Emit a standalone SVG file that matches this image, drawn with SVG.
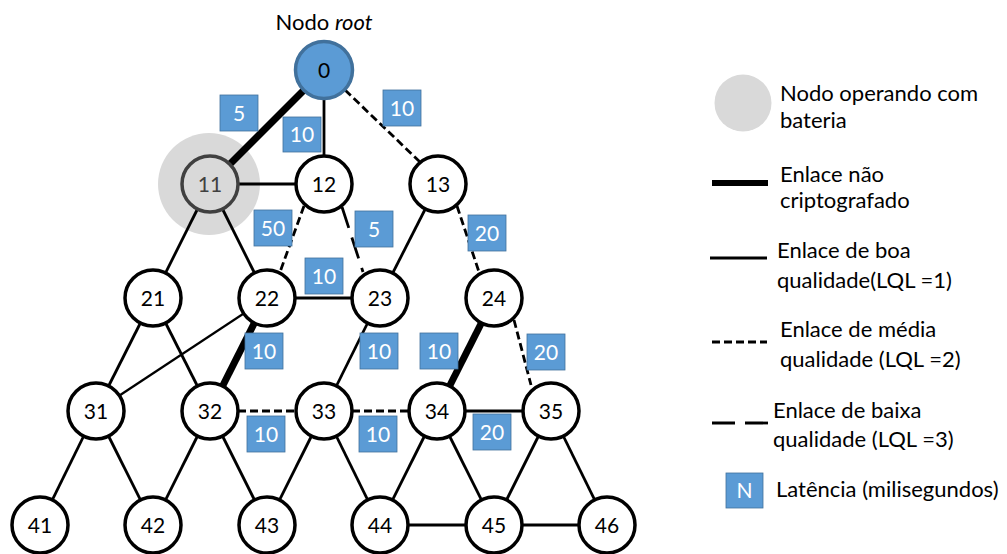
<svg xmlns="http://www.w3.org/2000/svg" width="1007" height="554" viewBox="0 0 1007 554">
  <defs>
    <style>
      .edge { stroke: #000; fill: none; stroke-width: 2.8; }
      .thick { stroke-width: 7; }
      .mid { stroke-dasharray: 8 4; stroke-width: 2.8; }
      .low { stroke-dasharray: 22 10; stroke-width: 2.8; }
      .node circle { fill: #fff; stroke: #000; stroke-width: 3.5; }
      .node text { font-family: Lato, "Liberation Sans", sans-serif; font-size: 21px; text-anchor: middle; fill: #000; }
      .lat rect { fill: #5b9bd5; stroke: #41719c; stroke-width: 0.8; }
      .lat text { font-family: Lato, "Liberation Sans", sans-serif; font-size: 21px; text-anchor: middle; fill: #fff; }
      .lg { font-family: Lato, "Liberation Sans", sans-serif; font-size: 22px; fill: #000; }
    </style>
  </defs>

  <rect width="1007" height="554" fill="#fff"/>

  <!-- battery-powered halo around node 11 -->
  <circle cx="209" cy="184" r="51" fill="#d9d9d9"/>

  <!-- links -->
  <g id="connectors">
    <line class="edge thick" x1="324" y1="70" x2="210" y2="184"/>
    <line class="edge" x1="324" y1="70" x2="324" y2="184"/>
    <line class="edge mid" x1="345" y1="90" x2="420" y2="162"/>
    <line class="edge" x1="210" y1="184" x2="324" y2="184"/>
    <line class="edge" x1="210" y1="184" x2="153" y2="298"/>
    <line class="edge" x1="210" y1="184" x2="267" y2="298"/>
    <line class="edge mid" x1="304" y1="206" x2="280" y2="272"/>
    <line class="edge low" x1="342" y1="207" x2="363" y2="272"/>
    <line class="edge" x1="438" y1="184" x2="380" y2="298"/>
    <line class="edge mid" x1="457" y1="206" x2="479" y2="272"/>
    <line class="edge" x1="153" y1="298" x2="96" y2="411"/>
    <line class="edge" x1="153" y1="298" x2="210" y2="411"/>
    <line class="edge" style="stroke-width:2.3" x1="267" y1="298" x2="96" y2="411"/>
    <line class="edge" x1="267" y1="298" x2="380" y2="298"/>
    <line class="edge thick" x1="267" y1="298" x2="210" y2="411"/>
    <line class="edge" x1="380" y1="298" x2="324" y2="411"/>
    <line class="edge thick" x1="494" y1="298" x2="437" y2="411"/>
    <line class="edge mid" x1="514" y1="320" x2="531" y2="385"/>
    <line class="edge mid" x1="238" y1="411" x2="296" y2="411"/>
    <line class="edge mid" x1="352" y1="411" x2="409" y2="411"/>
    <line class="edge" x1="437" y1="411" x2="551" y2="411"/>
    <line class="edge" x1="96" y1="411" x2="40" y2="525"/>
    <line class="edge" x1="96" y1="411" x2="153" y2="525"/>
    <line class="edge" x1="210" y1="411" x2="153" y2="525"/>
    <line class="edge" x1="210" y1="411" x2="267" y2="525"/>
    <line class="edge" x1="324" y1="411" x2="267" y2="525"/>
    <line class="edge" x1="324" y1="411" x2="380" y2="525"/>
    <line class="edge" x1="437" y1="411" x2="380" y2="525"/>
    <line class="edge" x1="437" y1="411" x2="494" y2="525"/>
    <line class="edge" x1="551" y1="411" x2="494" y2="525"/>
    <line class="edge" x1="551" y1="411" x2="607" y2="525"/>
    <line class="edge" x1="380" y1="525" x2="607" y2="525"/>
  </g>

  <!-- root caption -->
  <text class="lg" x="324" y="30" text-anchor="middle">Nodo <tspan font-style="italic">root</tspan></text>

  <!-- nodes -->
  <g id="n0" class="node"><circle cx="324" cy="70" r="28.5" style="fill:#5b9bd5;stroke:#41719c"/><text x="324" y="77.5">0</text></g>
  <g id="n11" class="node"><circle cx="210" cy="184" r="28" style="fill:#d9d9d9;stroke:#404040"/><text x="210" y="191.5" style="fill:#404040">11</text></g>
  <g id="n12" class="node"><circle cx="324" cy="184" r="28"/><text x="324" y="191.5">12</text></g>
  <g id="n13" class="node"><circle cx="438" cy="184" r="28"/><text x="438" y="191.5">13</text></g>
  <g id="n21" class="node"><circle cx="153" cy="298" r="28"/><text x="153" y="305.5">21</text></g>
  <g id="n22" class="node"><circle cx="267" cy="298" r="28"/><text x="267" y="305.5">22</text></g>
  <g id="n23" class="node"><circle cx="380" cy="298" r="28"/><text x="380" y="305.5">23</text></g>
  <g id="n24" class="node"><circle cx="494" cy="298" r="28"/><text x="494" y="305.5">24</text></g>
  <g id="n31" class="node"><circle cx="96" cy="411" r="28"/><text x="96" y="418.5">31</text></g>
  <g id="n32" class="node"><circle cx="210" cy="411" r="28"/><text x="210" y="418.5">32</text></g>
  <g id="n33" class="node"><circle cx="324" cy="411" r="28"/><text x="324" y="418.5">33</text></g>
  <g id="n34" class="node"><circle cx="437" cy="411" r="28"/><text x="437" y="418.5">34</text></g>
  <g id="n35" class="node"><circle cx="551" cy="411" r="28"/><text x="551" y="418.5">35</text></g>
  <g id="n41" class="node"><circle cx="40" cy="525" r="28"/><text x="40" y="532.5">41</text></g>
  <g id="n42" class="node"><circle cx="153" cy="525" r="28"/><text x="153" y="532.5">42</text></g>
  <g id="n43" class="node"><circle cx="267" cy="525" r="28"/><text x="267" y="532.5">43</text></g>
  <g id="n44" class="node"><circle cx="380" cy="525" r="28"/><text x="380" y="532.5">44</text></g>
  <g id="n45" class="node"><circle cx="494" cy="525" r="28"/><text x="494" y="532.5">45</text></g>
  <g id="n46" class="node"><circle cx="607" cy="525" r="28"/><text x="607" y="532.5">46</text></g>

  <!-- latency tags -->
  <g id="latencies">
    <g class="lat"><rect x="220" y="95" width="38" height="36"/><text x="239" y="120.5">5</text></g>
    <g class="lat"><rect x="283" y="117" width="38" height="35"/><text x="302" y="142">10</text></g>
    <g class="lat"><rect x="383" y="90" width="38" height="36"/><text x="402" y="115.5">10</text></g>
    <g class="lat"><rect x="254" y="210" width="38" height="36"/><text x="273" y="235.5">50</text></g>
    <g class="lat"><rect x="355" y="211" width="38" height="36"/><text x="374" y="236.5">5</text></g>
    <g class="lat"><rect x="468" y="215" width="38" height="36"/><text x="487" y="240.5">20</text></g>
    <g class="lat"><rect x="305" y="258" width="38" height="36"/><text x="324" y="283.5">10</text></g>
    <g class="lat"><rect x="245" y="333" width="38" height="36"/><text x="264" y="358.5">10</text></g>
    <g class="lat"><rect x="360" y="333" width="38" height="36"/><text x="379" y="358.5">10</text></g>
    <g class="lat"><rect x="420" y="333" width="38" height="36"/><text x="439" y="358.5">10</text></g>
    <g class="lat"><rect x="527" y="334" width="38" height="36"/><text x="546" y="359.5">20</text></g>
    <g class="lat"><rect x="247" y="416" width="38" height="36"/><text x="266" y="441.5">10</text></g>
    <g class="lat"><rect x="359" y="416" width="38" height="36"/><text x="378" y="441.5">10</text></g>
    <g class="lat"><rect x="473" y="414" width="38" height="36"/><text x="492" y="439.5">20</text></g>
  </g>

  <!-- legend -->
  <g id="legend">
    <circle cx="743" cy="103" r="28.5" fill="#d9d9d9"/>
    <text class="lg" x="780" y="101">Nodo operando com</text>
    <text class="lg" x="780" y="128">bateria</text>

    <line class="edge" style="stroke-width:6" x1="712" y1="183" x2="768" y2="183"/>
    <text class="lg" x="780" y="182">Enlace não</text>
    <text class="lg" x="780" y="208">criptografado</text>

    <line class="edge" x1="710" y1="258" x2="767" y2="258"/>
    <text class="lg" x="777" y="258">Enlace de boa</text>
    <text class="lg" x="777" y="288">qualidade(LQL =1)</text>

    <line class="edge" style="stroke-dasharray:8 4;stroke-width:2.8" x1="712" y1="342" x2="767" y2="342"/>
    <text class="lg" x="780" y="337">Enlace de média</text>
    <text class="lg" x="780" y="367">qualidade (LQL =2)</text>

    <line class="edge" style="stroke-dasharray:23 10;stroke-width:2.8" x1="712" y1="423" x2="768" y2="423"/>
    <text class="lg" x="773" y="418">Enlace de baixa</text>
    <text class="lg" x="773" y="447">qualidade (LQL =3)</text>

    <g class="lat"><rect x="726" y="473" width="37" height="35"/><text x="744.5" y="498">N</text></g>
    <text class="lg" x="776" y="497">Latência (milisegundos)</text>
  </g>
</svg>
